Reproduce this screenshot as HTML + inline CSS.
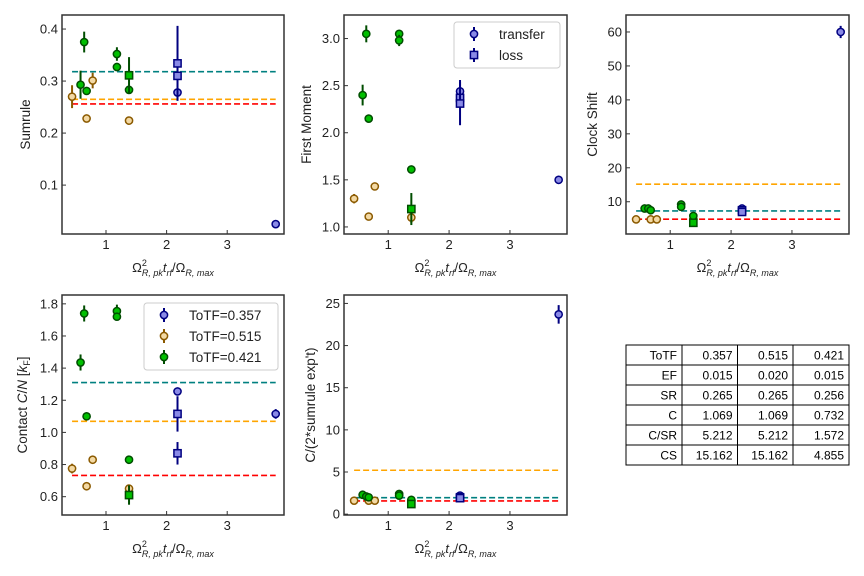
<!DOCTYPE html>
<html><head><meta charset="utf-8">
<style>
html,body{margin:0;padding:0;background:#fff;}
svg{display:block;font-family:"Liberation Sans","DejaVu Sans",sans-serif;}
</style></head>
<body>
<svg id="fig" width="864" height="576" viewBox="0 0 864 576" xmlns="http://www.w3.org/2000/svg">
<rect width="864" height="576" fill="#fff"/>
</svg>
<script>
// ---- shared x values ----
const xBrown = [0.44, 0.68, 0.78, 1.38];
const xGreen = [0.58, 0.64, 0.68, 1.18, 1.18, 1.38];
const xGreenSq = [1.38];
const xBlue = [2.18, 3.8];
const xBlueSq = [2.18, 2.18];
const xTicks = [1, 2, 3];
const refLineX = [0.44, 3.8];

// ---- Sumrule ----
const sumBrownY = [0.270, 0.228, 0.301, 0.224];
const sumBrownE = [0.022, 0.005, 0.015, 0.004];
const sumGreenY = [0.293, 0.375, 0.281, 0.352, 0.327, 0.283];
const sumGreenE = [0.027, 0.020, 0.005, 0.013, 0.005, 0.005];
const sumGreenSqY = [0.311]; const sumGreenSqE = [0.035];
const sumBlueY = [0.278, 0.025]; const sumBlueE = [0.015, 0.003];
const sumBlueSqY = [0.334, 0.310]; const sumBlueSqE = [0.072, 0.01];
const sumRef = [0.318, 0.265, 0.256];
const sumTicks = [0.1, 0.2, 0.3, 0.4];

// ---- First Moment ----
const fmBrownY = [1.30, 1.11, 1.43, 1.10];
const fmBrownE = [0.05, 0.04, 0.02, 0.06];
const fmGreenY = [2.40, 3.05, 2.15, 3.05, 2.98, 1.61];
const fmGreenE = [0.11, 0.09, 0.02, 0.04, 0.06, 0.02];
const fmGreenSqY = [1.19]; const fmGreenSqE = [0.17];
const fmBlueY = [2.44, 1.50]; const fmBlueE = [0.12, 0.04];
const fmBlueSqY = [2.37, 2.31]; const fmBlueSqE = [0.02, 0.23];
const fmTicks = [1.0, 1.5, 2.0, 2.5, 3.0];

// ---- Clock shift ----
const csBrownY = [4.8, 4.8, 4.8, 4.8];
const csBrownE = [0.3, 0.3, 0.3, 0.3];
const csGreenY = [8.0, 8.0, 7.5, 9.2, 8.5, 5.8];
const csGreenE = [0.4, 0.4, 0.4, 0.5, 0.4, 0.4];
const csGreenSqY = [3.8]; const csGreenSqE = [0.6];
const csBlueY = [8.0, 60.0]; const csBlueE = [0.5, 1.8];
const csBlueSqY = [7.5, 7.0]; const csBlueSqE = [0.5, 0.5];
const csRef = [7.3, 15.16, 4.86];
const csTicks = [10, 20, 30, 40, 50, 60];

// ---- Contact ----
const cBrownY = [0.775, 0.665, 0.83, 0.65];
const cBrownE = [0.03, 0.01, 0.02, 0.02];
const cGreenY = [1.435, 1.74, 1.10, 1.755, 1.72, 0.83];
const cGreenE = [0.05, 0.05, 0.01, 0.04, 0.02, 0.01];
const cGreenSqY = [0.61]; const cGreenSqE = [0.06];
const cBlueY = [1.255, 1.115]; const cBlueE = [0.02, 0.03];
const cBlueSqY = [1.115, 0.87]; const cBlueSqE = [0.11, 0.07];
const cRef = [1.31, 1.069, 0.732];
const cTicks = [0.6, 0.8, 1.0, 1.2, 1.4, 1.6, 1.8];

// ---- C/(2*sumrule) ----
const rBrownY = [1.6, 1.6, 1.6, 1.6];
const rBrownE = [0.1, 0.1, 0.1, 0.1];
const rGreenY = [2.3, 2.1, 2.0, 2.4, 2.2, 1.7];
const rGreenE = [0.2, 0.2, 0.1, 0.2, 0.1, 0.1];
const rGreenSqY = [1.2]; const rGreenSqE = [0.3];
const rBlueY = [2.2, 23.7]; const rBlueE = [0.1, 1.1];
const rBlueSqY = [2.0, 1.9]; const rBlueSqE = [0.2, 0.2];
const rRef = [1.95, 5.21, 1.57];
const rTicks = [0, 5, 10, 15, 20, 25];

// ---- Table ----
const tableRows = ["ToTF", "EF", "SR", "C", "C/SR", "CS"];
const tableCol1 = ["0.357", "0.015", "0.265", "1.069", "5.212", "15.162"];
const tableCol2 = ["0.515", "0.020", "0.265", "1.069", "5.212", "15.162"];
const tableCol3 = ["0.421", "0.015", "0.256", "0.732", "1.572", "4.855"];

const NS = "http://www.w3.org/2000/svg";
const svg = document.getElementById("fig");
function mk(tag, attrs, parent) {
  const e = document.createElementNS(NS, tag);
  for (const k in attrs) e.setAttribute(k, attrs[k]);
  (parent || svg).appendChild(e);
  return e;
}
const COL = {
  blue: {face: "#8a8ae6", edge: "#000080"},
  brown: {face: "#f3d9a4", edge: "#8b5a00"},
  green: {face: "#00c000", edge: "#004d00"}
};
const REFCOL = ["#008080", "#ffa500", "#ff0000"];

function panel(name, L, T, R, B, ymin, ymax, yticks, ylabel, ytfmt, series, refs) {
  const g = mk("g", {});
  
  
  const xmin = 0.274, xmax = 3.937;
  const sx = v => L + (v - xmin) / (xmax - xmin) * (R - L);
  const sy = v => B - (v - ymin) / (ymax - ymin) * (B - T);
  // ref lines
  if (refs) refs.forEach((v, i) => {
    const ln = mk("line", {x1: sx(refLineX[0]), x2: sx(refLineX[1]), y1: sy(v), y2: sy(v), stroke: REFCOL[i], "stroke-width": 1.6, "stroke-dasharray": "6,3"}, g);
    
    
  });
  // series
  series.forEach(s => {
    const c = COL[s.c];
    s.x.forEach((xv, i) => {
      const cx = sx(xv), cy = sy(s.y[i]);
      const eb = mk("line", {x1: cx, x2: cx, y1: sy(s.y[i] - s.e[i]), y2: sy(s.y[i] + s.e[i]), stroke: c.edge, "stroke-width": 2}, g);
      
      
      let m;
      if (s.sq) m = mk("rect", {x: cx - 3.6, y: cy - 3.6, width: 7.2, height: 7.2, fill: c.face, stroke: c.edge, "stroke-width": 1.5}, g);
      else m = mk("circle", {cx: cx, cy: cy, r: 3.6, fill: c.face, stroke: c.edge, "stroke-width": 1.5}, g);
      
      
    });
  });
  // frame
  const fr = mk("rect", {x: L, y: T, width: R - L, height: B - T, fill: "none", stroke: "#333", "stroke-width": 1.5}, g);
  
  
  // x ticks
  xTicks.forEach(t => {
    const x = sx(t);
    mk("line", {x1: x, x2: x, y1: B, y2: B - 4, stroke: "#333", "stroke-width": 1}, g);
    const tl = mk("text", {x: x, y: B + 15, "font-size": 13, "text-anchor": "middle", fill: "#222"}, g);
    tl.textContent = t;
    
    
  });
  yticks.forEach(t => {
    const y = sy(t);
    mk("line", {x1: L, x2: L + 4, y1: y, y2: y, stroke: "#333", "stroke-width": 1}, g);
    const tl = mk("text", {x: L - 4, y: y + 4.5, "font-size": 13, "text-anchor": "end", fill: "#222"}, g);
    tl.textContent = ytfmt(t);
    
    
  });
  // x label
  const xl = mk("text", {x: (L + R) / 2, y: B + 38, "font-size": 13, "text-anchor": "middle", fill: "#222"}, g);
  
  
  xl.innerHTML = 'Ω<tspan dy="-6" font-size="9">2</tspan><tspan dy="10" dx="-5" font-size="9" font-style="italic">R, pk</tspan><tspan dy="-4" font-style="italic">t</tspan><tspan dy="4" font-size="9" font-style="italic">rf</tspan><tspan dy="-4">/Ω</tspan><tspan dy="4" font-size="9" font-style="italic">R, max</tspan>';
  // y label
  const yl = mk("text", {x: 0, y: 0, "font-size": 13.5, "text-anchor": "middle", fill: "#222", transform: `translate(${ylabel.x},${(T + B) / 2}) rotate(-90)`}, g);
  
  
  yl.innerHTML = ylabel.t;
  return {sx, sy, g};
}
function mkSeries(bY, bE, gY, gE, gsY, gsE, uY, uE, usY, usE) {
  return [
    {c: "brown", x: xBrown, y: bY, e: bE},
    {c: "green", x: xGreen, y: gY, e: gE},
    {c: "green", sq: true, x: xGreenSq, y: gsY, e: gsE},
    {c: "blue", x: xBlue, y: uY, e: uE},
    {c: "blue", sq: true, x: xBlueSq, y: usY, e: usE}
  ];
}
const f1 = t => t.toFixed(1);
const f0 = t => String(t);

panel("sumrule-panel", 62, 15, 284, 234, 0.006, 0.427, sumTicks, {x: 30, t: "Sumrule"}, f1,
  mkSeries(sumBrownY, sumBrownE, sumGreenY, sumGreenE, sumGreenSqY, sumGreenSqE, sumBlueY, sumBlueE, sumBlueSqY, sumBlueSqE), sumRef);
panel("first-moment-panel", 344, 15, 567, 234, 0.925, 3.25, fmTicks, {x: 311, t: "First Moment"}, f1,
  mkSeries(fmBrownY, fmBrownE, fmGreenY, fmGreenE, fmGreenSqY, fmGreenSqE, fmBlueY, fmBlueE, fmBlueSqY, fmBlueSqE), null);
panel("clock-shift-panel", 626, 15, 849, 234, 0.5, 65, csTicks, {x: 597, t: "Clock Shift"}, f0,
  mkSeries(csBrownY, csBrownE, csGreenY, csGreenE, csGreenSqY, csGreenSqE, csBlueY, csBlueE, csBlueSqY, csBlueSqE), csRef);
panel("contact-panel", 62, 295, 284, 515, 0.486, 1.855, cTicks, {x: 27, t: 'Contact <tspan font-style="italic">C</tspan>/<tspan font-style="italic">N</tspan> [<tspan font-style="italic">k</tspan><tspan font-size="9" dy="3">F</tspan><tspan dy="-3">]</tspan>'}, f1,
  mkSeries(cBrownY, cBrownE, cGreenY, cGreenE, cGreenSqY, cGreenSqE, cBlueY, cBlueE, cBlueSqY, cBlueSqE), cRef);
panel("ratio-panel", 344, 295, 567, 515, -0.1, 26.0, rTicks, {x: 315, t: "C/(2*sumrule exp't)"}, f0,
  mkSeries(rBrownY, rBrownE, rGreenY, rGreenE, rGreenSqY, rGreenSqE, rBlueY, rBlueE, rBlueSqY, rBlueSqE), rRef);

// ---- legends ----
function legend(name, x, y, w, h, entries) {
  const g = mk("g", {});
  
  
  mk("rect", {x: x, y: y, width: w, height: h, rx: 3, fill: "#fff", "fill-opacity": 0.85, stroke: "#ccc", "stroke-width": 1}, g);
  entries.forEach((en, i) => {
    const cy = y + 12 + i * en.dy;
    const c = COL[en.c];
    const eg = mk("g", {}, g);
    
    
    mk("line", {x1: x + 20, x2: x + 20, y1: cy - 7, y2: cy + 7, stroke: c.edge, "stroke-width": 2}, eg);
    if (en.sq) mk("rect", {x: x + 16.4, y: cy - 3.6, width: 7.2, height: 7.2, fill: c.face, stroke: c.edge, "stroke-width": 1.5}, eg);
    else mk("circle", {cx: x + 20, cy: cy, r: 3.6, fill: c.face, stroke: c.edge, "stroke-width": 1.5}, eg);
    const t = mk("text", {x: x + en.tx, y: cy + 5, "font-size": 13.5, fill: "#222"}, eg);
    t.textContent = en.t;
  });
}
legend("marker-legend", 454, 22, 106, 46, [
  {c: "blue", t: "transfer", dy: 21, tx: 45},
  {c: "blue", sq: true, t: "loss", dy: 21, tx: 45}
]);
legend("totf-legend", 144, 303, 134, 67, [
  {c: "blue", t: "ToTF=0.357", dy: 21, tx: 45},
  {c: "brown", t: "ToTF=0.515", dy: 21, tx: 45},
  {c: "green", t: "ToTF=0.421", dy: 21, tx: 45}
]);

// ---- table ----
const tg = mk("g", {});


const colX = [626, 682, 737.5, 793, 849];
const rowY0 = 345, rowH = 20;
const cols = [tableRows, tableCol1, tableCol2, tableCol3];
cols.forEach((col, ci) => {
  col.forEach((v, ri) => {
    mk("rect", {x: colX[ci], y: rowY0 + ri * rowH, width: colX[ci + 1] - colX[ci], height: rowH, fill: "#fff", stroke: "#000", "stroke-width": 1}, tg);
    const t = mk("text", {x: colX[ci + 1] - 5, y: rowY0 + ri * rowH + 14.5, "font-size": 12, "text-anchor": "end", fill: "#000"}, tg);
    t.textContent = v;
    
    
  });
});
</script>
</body></html>
